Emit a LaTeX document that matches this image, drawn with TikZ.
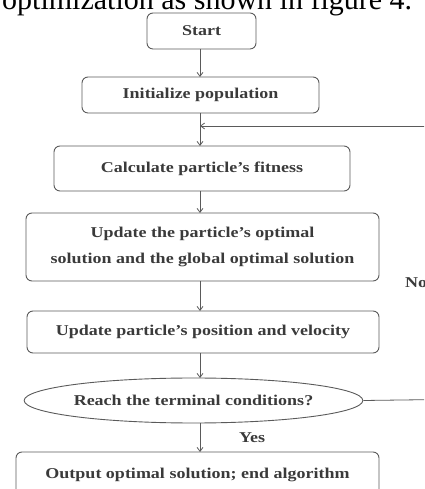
\documentclass[tikz,border=0pt]{standalone}
\usepackage{fontspec}
\setmainfont{Liberation Serif}
\newfontfamily\boxfont[FakeStretch=1.2]{Liberation Serif}
\usetikzlibrary{shapes.geometric,arrows.meta}
\definecolor{linegray}{HTML}{5A5A5A}
\definecolor{textgray}{HTML}{3A3A3A}
\begin{document}
\begin{tikzpicture}[x=1pt,y=1pt,
  box/.style={draw=linegray, line width=0.9pt, rounded corners=6pt, inner sep=0pt,
    align=center, text=textgray, font=\boxfont\bfseries\fontsize{15}{26}\selectfont},
  decision/.style={ellipse, draw=linegray, line width=0.9pt, inner sep=0pt,
    text=textgray, font=\boxfont\bfseries\fontsize{15}{18}\selectfont},
  flow/.style={draw=linegray, line width=0.8pt, -{Straight Barb[length=4pt,width=6pt]}},
  lbl/.style={text=textgray, font=\boxfont\bfseries\fontsize{15}{18}\selectfont}
]
\useasboundingbox (0,0) rectangle (424,489);
\clip (0,0) rectangle (424,489);

% running text above the chart
\node[anchor=base west, inner sep=0pt, font=\fontsize{30}{30}\selectfont] (caption) at (2,479)
  {optimization as shown in figure 4.};

% flowchart steps
\node[box, minimum width=109pt, minimum height=36pt] (start) at (201.5,458) {Start};
\node[box, minimum width=237pt, minimum height=36pt] (init) at (200.5,394) {Initialize population};
\node[box, minimum width=296pt, minimum height=45pt] (calc) at (202,320.5) {Calculate particle’s fitness};
\node[box, minimum width=353pt, minimum height=68pt] (best) at (202.5,242)
  {Update the particle’s optimal\\solution and the global optimal solution};
\node[box, minimum width=352pt, minimum height=42pt] (move) at (203,157) {Update particle’s position and velocity};
\node[decision, minimum width=309pt, minimum height=45pt] (check) at (193.5,88.5) {Reach the terminal conditions?};
\node[box, minimum width=363pt, minimum height=46pt] (out) at (197.5,14) {Output optimal solution; end algorithm};

% main sequence
\draw[flow] (200,440) -- (200,412);
\draw[flow] (200,376) -- (200,343);
\draw[flow] (200,298) -- (200,276);
\draw[flow] (200,208) -- (200,178);
\draw[flow] (200,136) -- (200,111);
\draw[flow] (200,66) -- (200,37);

% loop back when the conditions are not met
\coordinate (loopdown) at (440,89.5);
\coordinate (loopup) at (440,363);
\coordinate (merge) at (200,363);
\draw[linegray, line width=0.8pt] (check.east) -- (loopdown) -- (loopup);
\draw[flow] (loopup) -- (merge);

\node[lbl] (no) at (416,206) {No};
\node[lbl] (yes) at (252,51) {Yes};
\end{tikzpicture}
\end{document}
